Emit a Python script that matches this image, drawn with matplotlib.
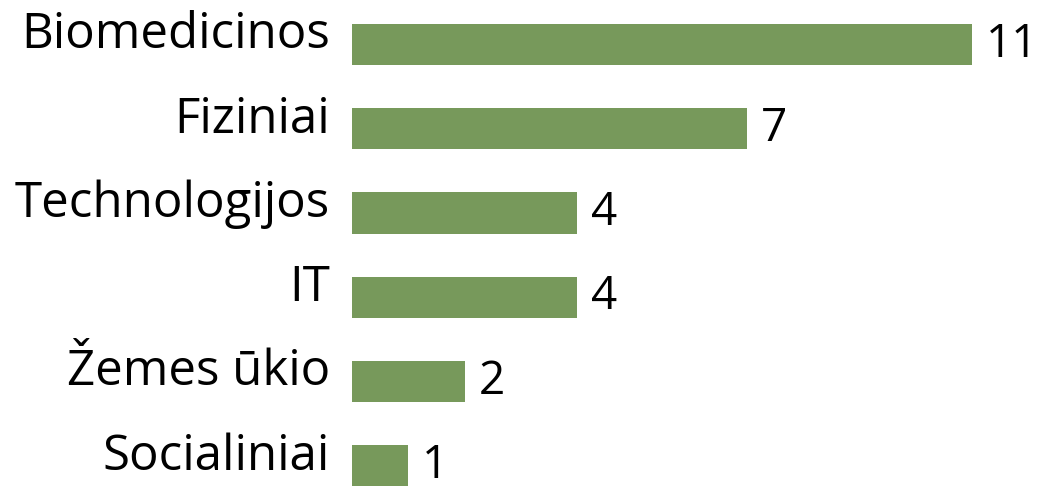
import matplotlib.pyplot as plt
import matplotlib.transforms as mtransforms

categories = ["Biomedicinos", "Fiziniai", "Technologijos", "IT", "Žemes ūkio", "Socialiniai"]
counts = [11, 7, 4, 4, 2, 1]

BAR_COLOR = "#77995B"
FONT = "Open Sans"

fig = plt.figure(figsize=(10.45, 4.86), dpi=100)
ax = fig.add_axes([352 / 1045, 0, 1 - 352 / 1045, 1])

positions = list(range(len(categories)))
ax.barh(positions, counts, height=0.49, color=BAR_COLOR)
ax.set_xlim(0, 693 / 56.36)
ax.set_ylim(5.237, -0.528)

for pos, value in zip(positions, counts):
    ax.annotate(str(value), (value, pos), xytext=(10, 0), textcoords="offset points",
                ha="left", va="center", fontsize=33, family=FONT, color="black")

ax.set_yticks(positions)
ax.set_yticklabels(categories, fontsize=35.5, family=FONT)
ax.tick_params(axis="y", length=0, pad=16)
offset = mtransforms.ScaledTranslation(0, 15 / 100, fig.dpi_scale_trans)
for label in ax.get_yticklabels():
    label.set_transform(label.get_transform() + offset)

ax.set_xticks([])
for spine in ax.spines.values():
    spine.set_visible(False)

fig.savefig("out.png", dpi=100)
